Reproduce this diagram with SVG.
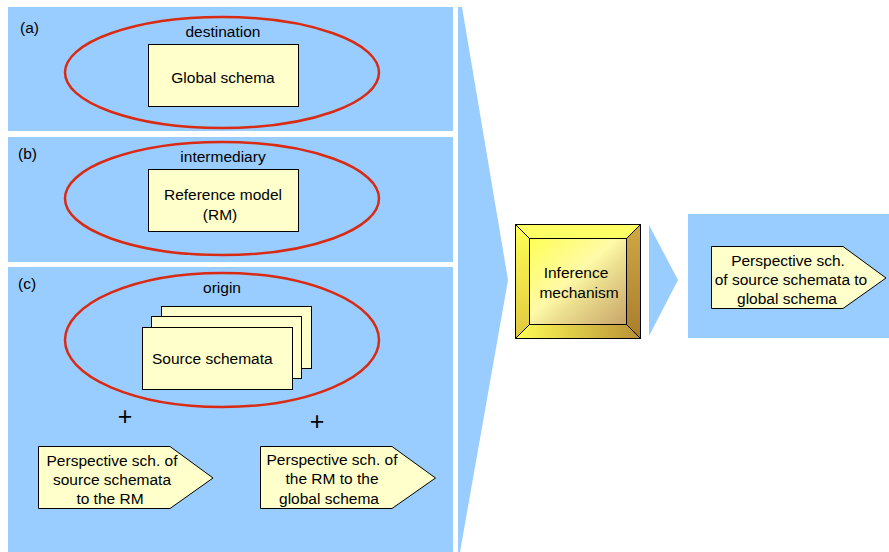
<svg xmlns="http://www.w3.org/2000/svg" width="889" height="552" viewBox="0 0 889 552">
<defs>
<style>
.panel{fill:#99ccff}
.box{fill:#ffffcc;stroke:#000;stroke-width:1}
.ell{fill:none;stroke:#d92a12;stroke-width:2.5}
text{font-family:"Liberation Sans",Arial,sans-serif;font-size:15.5px;fill:#000}
.c{text-anchor:middle}
.bev{stroke:#000;stroke-width:1}
.plus{font-size:25px}
</style>
<linearGradient id="face" x1="0" y1="0" x2="1" y2="1">
<stop offset="0" stop-color="#ffff55"/>
<stop offset="0.45" stop-color="#fffaa8"/>
<stop offset="0.6" stop-color="#ece090"/>
<stop offset="1" stop-color="#c8a468"/>
</linearGradient>
<linearGradient id="bevR" x1="0" y1="0" x2="0" y2="1">
<stop offset="0" stop-color="#d0a844"/>
<stop offset="1" stop-color="#a87e2c"/>
</linearGradient>
<linearGradient id="bevB" x1="0" y1="0" x2="1" y2="0">
<stop offset="0" stop-color="#ffff55"/>
<stop offset="1" stop-color="#b89038"/>
</linearGradient>
<linearGradient id="bevL" x1="0" y1="0" x2="0" y2="1">
<stop offset="0" stop-color="#ffff55"/>
<stop offset="1" stop-color="#e0c840"/>
</linearGradient>
</defs>

<g id="panel-a">
<rect class="panel" x="8" y="7" width="445" height="124"/>
<text x="20" y="33">(a)</text>
</g>
<g id="panel-b">
<rect class="panel" x="8" y="137" width="445" height="125"/>
<text x="18" y="159">(b)</text>
</g>
<g id="panel-c">
<rect class="panel" x="8" y="267" width="445" height="285"/>
<text x="18" y="289">(c)</text>
</g>
<g id="big-arrow">
<polygon class="panel" points="458,7 462,7 508,280 460,552 458,552"/>
</g>

<g id="destination">
<ellipse class="ell" cx="222" cy="72.5" rx="157" ry="55.5"/>
<text class="c" x="223" y="37">destination</text>
</g>
<g id="global-schema">
<rect class="box" x="148.5" y="44.5" width="150" height="62"/>
<text class="c" x="223" y="83">Global schema</text>
</g>

<g id="intermediary">
<ellipse class="ell" cx="222" cy="198.5" rx="157" ry="56.5"/>
<text class="c" x="223" y="162">intermediary</text>
</g>
<g id="reference-model">
<rect class="box" x="148.5" y="169.5" width="150" height="62"/>
<text class="c" x="223" y="200">Reference model</text>
<text class="c" x="220" y="220">(RM)</text>
</g>

<g id="origin">
<ellipse class="ell" cx="222" cy="340" rx="157" ry="67"/>
<text class="c" x="222" y="293">origin</text>
</g>
<g id="source-schemata">
<rect class="box" x="161.5" y="306.5" width="150" height="62"/>
<rect class="box" x="151.5" y="316.5" width="150" height="62"/>
<rect class="box" x="142.5" y="327.5" width="150" height="62"/>
<text x="152" y="364">Source schemata</text>
</g>

<g id="plus-1"><text class="c plus" x="125" y="425">+</text></g>
<g id="plus-2"><text class="c plus" x="317" y="430">+</text></g>

<g id="persp-src-rm">
<polygon class="box" points="38.5,446.5 170,446.5 213,478 170,508.5 38.5,508.5"/>
<text class="c" x="112" y="466">Perspective sch. of</text>
<text class="c" x="112" y="485">source schemata</text>
<text class="c" x="110" y="504">to the RM</text>
</g>
<g id="persp-rm-global">
<polygon class="box" points="260.5,446.5 392,446.5 435.5,478 392,508.5 260.5,508.5"/>
<text class="c" x="332" y="465">Perspective sch. of</text>
<text class="c" x="332" y="484">the RM to the</text>
<text class="c" x="329" y="504">global schema</text>
</g>

<g id="inference-mechanism">
<polygon fill="#ffff66" class="bev" points="515.5,224.5 640.5,224.5 626.5,238.5 529.5,238.5"/>
<polygon fill="url(#bevL)" class="bev" points="515.5,224.5 529.5,238.5 529.5,324.5 515.5,338.5"/>
<polygon fill="url(#bevR)" class="bev" points="640.5,224.5 640.5,338.5 626.5,324.5 626.5,238.5"/>
<polygon fill="url(#bevB)" class="bev" points="515.5,338.5 640.5,338.5 626.5,324.5 529.5,324.5"/>
<rect x="529.5" y="238.5" width="97" height="86" fill="url(#face)" stroke="#000" stroke-width="1"/>
<text class="c" x="576" y="278">Inference</text>
<text class="c" x="579" y="298">mechanism</text>
</g>

<g id="small-arrow">
<polygon class="panel" points="649,225 678,280 649,336"/>
</g>

<g id="result-panel">
<rect class="panel" x="688" y="214" width="201" height="124"/>
</g>
<g id="persp-src-global">
<polygon class="box" points="711.5,246.5 843,246.5 886,278 843,308.5 711.5,308.5"/>
<text class="c" x="788" y="266">Perspective sch.</text>
<text class="c" x="791" y="285">of source schemata to</text>
<text class="c" x="787" y="304">global schema</text>
</g>

<g id="connectors"></g>
</svg>
